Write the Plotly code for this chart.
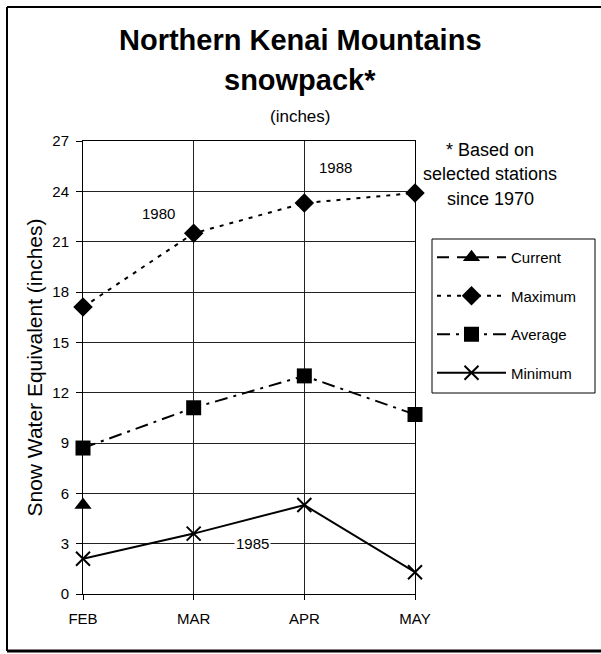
import plotly.graph_objects as go

months = ["FEB", "MAR", "APR", "MAY"]
current = [5.3, None, None, None]
maximum = [17.1, 21.5, 23.3, 23.9]
average = [8.7, 11.1, 13.0, 10.7]
minimum = [2.1, 3.6, 5.3, 1.3]
y_ticks = [0, 3, 6, 9, 12, 15, 18, 21, 24, 27]

W, H = 601, 654
L, R, T, B = 83, 415, 141, 594  # plot area in pixels

def px(x):
    return (x - L) / (R - L)

def py(y):
    return (B - y) / (B - T)

FONT = "Liberation Sans, Arial, sans-serif"

fig = go.Figure()
fig.add_trace(go.Scatter(
    x=months, y=current, name="Current", mode="lines+markers",
    line=dict(color="black", width=2, dash="12px,8px"),
    marker=dict(symbol="triangle-up", size=15, color="black"),
    cliponaxis=False, legendgroup="a"))
fig.add_trace(go.Scatter(
    x=months, y=maximum, name="Maximum", mode="lines+markers",
    line=dict(color="black", width=2, dash="4px,6px"),
    marker=dict(symbol="diamond", size=15, color="black"),
    cliponaxis=False, legendgroup="b"))
fig.add_trace(go.Scatter(
    x=months, y=average, name="Average", mode="lines+markers",
    line=dict(color="black", width=2, dash="13px,6px,3px,6px"),
    marker=dict(symbol="square", size=15, color="black"),
    cliponaxis=False, legendgroup="c"))
fig.add_trace(go.Scatter(
    x=months, y=minimum, name="Minimum", mode="lines+markers",
    line=dict(color="black", width=2),
    marker=dict(symbol="x-thin-open", size=14, color="black",
                line=dict(color="black", width=2)),
    cliponaxis=False, legendgroup="d"))

fig.update_layout(
    width=W, height=H,
    margin=dict(l=L, r=W - R, t=T, b=H - B, pad=0, autoexpand=False),
    paper_bgcolor="white", plot_bgcolor="white",
    font=dict(family=FONT, color="black", size=15),
    showlegend=True,
    legend=dict(
        x=px(432), y=py(241), xanchor="left", yanchor="top",
        borderwidth=0, bgcolor="rgba(0,0,0,0)",
        font=dict(size=15, family=FONT), tracegroupgap=16,
        itemwidth=69,
    ),
    xaxis=dict(
        type="category", range=[0, 3], showgrid=True, gridcolor="#222", gridwidth=1,
        showline=True, linecolor="black", linewidth=1, mirror=True,
        ticks="outside", ticklen=5, tickcolor="black", ticklabelstandoff=6,
        tickfont=dict(size=15, family=FONT), fixedrange=True,
    ),
    yaxis=dict(
        range=[0, 27], tickvals=y_ticks, showgrid=True, gridcolor="#222", gridwidth=1,
        showline=True, linecolor="black", linewidth=1, mirror=True, zeroline=False,
        ticks="outside", ticklen=6, tickcolor="black", ticklabelstandoff=4,
        tickfont=dict(size=15, family=FONT), fixedrange=True,
        title=dict(text="Snow Water Equivalent (inches)", font=dict(size=21, family=FONT), standoff=3),
    ),
)

annots = [
    dict(text="<b>Northern Kenai Mountains</b>", x=px(300), y=py(40), size=29),
    dict(text="<b>snowpack*</b>", x=px(300), y=py(80), size=29),
    dict(text="(inches)", x=px(300), y=py(117), size=17),
    dict(text="* Based on", x=px(490), y=py(150), size=18),
    dict(text="selected stations", x=px(490), y=py(174), size=18),
    dict(text="since 1970", x=px(490), y=py(199), size=18),
]
for a in annots:
    fig.add_annotation(text=a["text"], x=a["x"], y=a["y"], xref="paper", yref="paper",
                       xanchor="center", yanchor="middle", showarrow=False,
                       font=dict(size=a["size"], family=FONT, color="black"))

for txt, xv, yv in [("1980", 0.68, 22.7), ("1988", 2.28, 25.45), ("1985", 1.53, 3.0)]:
    fig.add_annotation(text=txt, x=xv, y=yv, xref="x", yref="y", showarrow=False,
                       font=dict(size=15, family=FONT, color="black"),
                       bgcolor="white" if txt == "1985" else "rgba(0,0,0,0)",
                       xanchor="center", yanchor="middle")

# legend frame
fig.add_shape(type="rect", xref="paper", yref="paper",
              x0=px(432), y0=py(239), x1=px(595), y1=py(393),
              line=dict(color="black", width=1), fillcolor="rgba(0,0,0,0)")

# outer frame (top, left, bottom)
frame = [
    (px(7), py(7), px(W), py(7), 2),
    (px(7), py(7), px(7), py(651), 2),
    (px(7), py(651), px(W), py(651), 3),
]
for x0, y0, x1, y1, w in frame:
    fig.add_shape(type="line", xref="paper", yref="paper", x0=x0, y0=y0, x1=x1, y1=y1,
                  line=dict(color="black", width=w))

fig.write_html("out.html", config={"displayModeBar": False},
               post_script="document.body.style.margin='0';document.body.style.overflow='hidden';")
